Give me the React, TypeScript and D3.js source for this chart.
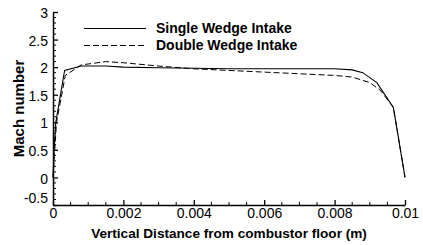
import React, { useEffect, useRef } from 'react';
import * as d3 from 'd3';

// Mach number profiles across the duct (x in m, y Mach)
const singleWedgeX = [0, 0.00003, 0.00008, 0.00033, 0.0008, 0.0015, 0.002, 0.003, 0.004, 0.005, 0.006, 0.007, 0.008, 0.0085, 0.0088, 0.0092, 0.00967, 0.01];
const singleWedgeY = [0, 0.5, 1.0, 1.94, 2.02, 2.02, 2.0, 1.99, 1.98, 1.97, 1.97, 1.97, 1.97, 1.95, 1.9, 1.72, 1.27, 0];
const doubleWedgeX = [0, 0.00005, 0.0001, 0.00035, 0.0008, 0.0015, 0.002, 0.003, 0.004, 0.005, 0.006, 0.007, 0.008, 0.0085, 0.009, 0.0093, 0.00967, 0.01];
const doubleWedgeY = [0, 0.5, 1.0, 1.85, 2.04, 2.1, 2.08, 2.02, 1.97, 1.94, 1.91, 1.88, 1.85, 1.82, 1.72, 1.58, 1.27, 0];

const xTicks = [0, 0.002, 0.004, 0.006, 0.008, 0.01];
const yTicks = [-0.5, 0, 0.5, 1, 1.5, 2, 2.5, 3];
const legendLabels = ['Single Wedge Intake', 'Double Wedge Intake'];

export default function App() {
  const svgRef = useRef<SVGSVGElement>(null);

  useEffect(() => {
    const W = 423, H = 245;
    const margin = { top: 12, right: 18, bottom: 40, left: 53 };
    const width = W - margin.left - margin.right;
    const height = H - margin.top - margin.bottom;
    const font = 'Liberation Sans, Arial, sans-serif';

    const root = d3.select(svgRef.current);
    root.selectAll('*').remove();
    const svg = root.append('g').attr('transform', `translate(${margin.left},${margin.top})`);

    const x = d3.scaleLinear().domain([0, 0.01]).range([0, width]);
    const y = d3.scaleLinear().domain([-0.5, 3]).range([height, 0]);

    // minor ticks (inward)
    const xMinor = d3.range(0, 0.01001, 0.0005).filter(v => !xTicks.some(t => Math.abs(t - v) < 1e-9));
    const yMinor = d3.range(-0.5, 3.001, 0.1).filter(v => !yTicks.some(t => Math.abs(t - v) < 1e-6));

    svg.selectAll('.xminor').data(xMinor).enter().append('line')
      .attr('x1', d => x(d)).attr('x2', d => x(d))
      .attr('y1', height).attr('y2', height - 3)
      .attr('stroke', '#000').attr('stroke-width', 1);
    svg.selectAll('.yminor').data(yMinor).enter().append('line')
      .attr('y1', d => y(d)).attr('y2', d => y(d))
      .attr('x1', 0).attr('x2', 3)
      .attr('stroke', '#000').attr('stroke-width', 1);

    // X axis
    const xAxis = svg.append('g')
      .attr('transform', `translate(0,${height})`)
      .call(d3.axisBottom(x).tickValues(xTicks).tickSizeInner(-5).tickSizeOuter(0).tickFormat(d => d === 0 ? '0' : String(d)));
    xAxis.select('.domain').attr('stroke', '#000').attr('stroke-width', 1.5);
    xAxis.selectAll('.tick line').attr('stroke', '#000').attr('stroke-width', 1.3);
    xAxis.selectAll('.tick text').attr('y', 3).attr('dy', '0.71em')
      .attr('font-family', font).attr('font-size', 14).attr('fill', '#000');

    // Y axis
    const yAxis = svg.append('g')
      .call(d3.axisLeft(y).tickValues(yTicks).tickSizeInner(-5).tickSizeOuter(0).tickFormat(d => String(d)));
    yAxis.select('.domain').attr('stroke', '#000').attr('stroke-width', 1.5);
    yAxis.selectAll('.tick line').attr('stroke', '#000').attr('stroke-width', 1.3);
    yAxis.selectAll('.tick text').attr('x', -5)
      .attr('dy', (d: any) => d === -0.5 ? '-0.15em' : '0.4em')
      .attr('font-family', font).attr('font-size', 14).attr('fill', '#000');

    // lines
    const line = d3.line<[number, number]>().x(d => x(d[0])).y(d => y(d[1]));
    const single = singleWedgeX.map((v, i) => [v, singleWedgeY[i]] as [number, number]);
    const dbl = doubleWedgeX.map((v, i) => [v, doubleWedgeY[i]] as [number, number]);

    svg.append('path').datum(dbl).attr('d', line)
      .attr('fill', 'none').attr('stroke', '#000').attr('stroke-width', 1).attr('stroke-dasharray', '6,3');
    svg.append('path').datum(single).attr('d', line)
      .attr('fill', 'none').attr('stroke', '#000').attr('stroke-width', 1.1);

    // legend
    const legend = root.append('g');
    legendLabels.forEach((lab, i) => {
      const ly = 28.5 + i * 17;
      legend.append('line').attr('x1', 84).attr('x2', 146).attr('y1', ly).attr('y2', ly)
        .attr('stroke', '#000').attr('stroke-width', 1)
        .attr('stroke-dasharray', i === 1 ? '6,3' : null);
      legend.append('text').attr('x', 156).attr('y', ly).attr('dy', '0.35em')
        .attr('font-family', font).attr('font-weight', 'bold').attr('font-size', 14)
        .text(lab);
    });

    // axis titles
    root.append('text')
      .attr('x', margin.left + width / 2).attr('y', 238)
      .attr('text-anchor', 'middle')
      .attr('font-family', font).attr('font-weight', 'bold').attr('font-size', 13.6)
      .text('Vertical Distance from combustor floor (m)');
    root.append('text')
      .attr('transform', `translate(24,${margin.top + height / 2}) rotate(-90)`)
      .attr('text-anchor', 'middle')
      .attr('font-family', font).attr('font-weight', 'bold').attr('font-size', 15)
      .text('Mach number');
  }, []);

  return (
    <svg ref={svgRef} width={423} height={245}
      style={{ position: 'absolute', left: 0, top: 0, background: '#fff' }} />
  );
}
